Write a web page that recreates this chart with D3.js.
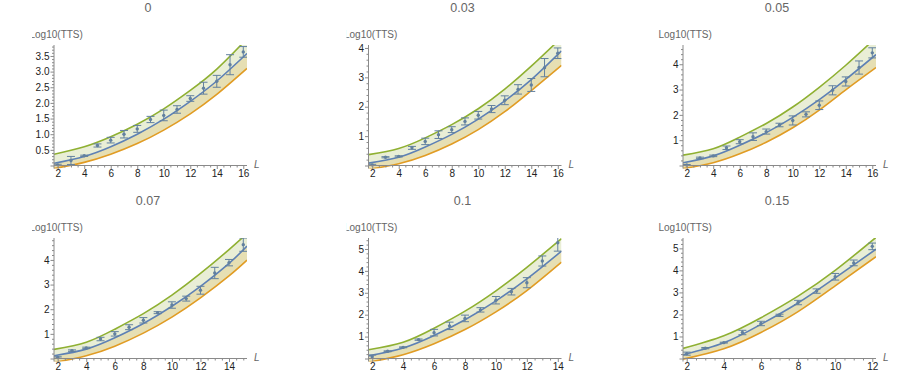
<!DOCTYPE html>
<html>
<head>
<meta charset="utf-8">
<script src="https://cdn.jsdelivr.net/npm/d3@7"></script>
<style>
  body { margin: 0; background: #fff; }
  svg { display: block; }
</style>
</head>
<body>
<div id="chart"></div>
<script>
// panel titles
const titles = ["0", "0.03", "0.05", "0.07", "0.1", "0.15"];

// system sizes L per panel
const sizes = [
  [2, 3, 4, 5, 6, 7, 8, 9, 10, 11, 12, 13, 14, 15, 16],
  [2, 3, 4, 5, 6, 7, 8, 9, 10, 11, 12, 13, 14, 15, 16],
  [2, 3, 4, 5, 6, 7, 8, 9, 10, 11, 12, 13, 14, 15, 16],
  [2, 3, 4, 5, 6, 7, 8, 9, 10, 11, 12, 13, 14, 15],
  [2, 3, 4, 5, 6, 7, 8, 9, 10, 11, 12, 13, 14],
  [2, 3, 4, 5, 6, 7, 8, 9, 10, 11, 12]
];

// measured Log10(TTS) and error
const meanLog = [
  [0.02, 0.16, 0.31, 0.64, 0.81, 1.0, 1.17, 1.47, 1.6, 1.79, 2.14, 2.47, 2.69, 3.22, 3.63],
  [0.02, 0.28, 0.31, 0.6, 0.82, 1.05, 1.22, 1.5, 1.71, 1.92, 2.22, 2.59, 2.74, 3.33, 3.82],
  [0.02, 0.3, 0.38, 0.7, 0.94, 1.14, 1.34, 1.6, 1.78, 2.02, 2.38, 2.97, 3.32, 3.87, 4.45],
  [0.04, 0.32, 0.43, 0.79, 1.0, 1.27, 1.55, 1.86, 2.17, 2.43, 2.77, 3.47, 3.89, 4.62],
  [0.08, 0.33, 0.51, 0.86, 1.18, 1.49, 1.83, 2.22, 2.66, 3.05, 3.46, 4.45, 5.28],
  [0.22, 0.47, 0.72, 1.18, 1.59, 1.96, 2.54, 3.06, 3.71, 4.34, 5.09]
];
const errLog = [
  [0.02, 0.13, 0.02, 0.05, 0.09, 0.12, 0.11, 0.1, 0.17, 0.12, 0.09, 0.19, 0.19, 0.32, 0.17],
  [0.02, 0.02, 0.02, 0.05, 0.11, 0.13, 0.1, 0.12, 0.13, 0.12, 0.15, 0.16, 0.22, 0.31, 0.18],
  [0.02, 0.03, 0.03, 0.07, 0.08, 0.15, 0.1, 0.07, 0.18, 0.1, 0.17, 0.18, 0.18, 0.26, 0.2],
  [0.03, 0.03, 0.03, 0.07, 0.09, 0.1, 0.11, 0.04, 0.13, 0.1, 0.16, 0.23, 0.13, 0.27],
  [0.08, 0.02, 0.02, 0.03, 0.15, 0.17, 0.15, 0.1, 0.17, 0.15, 0.23, 0.23, 0.38],
  [0.07, 0.03, 0.02, 0.1, 0.1, 0.05, 0.1, 0.1, 0.15, 0.13, 0.15]
];

// fitted curves read at a few L values (mid fit, upper and lower bound)
const fitL = [
  [1.72, 4, 6, 8, 10, 12, 14, 16.28],
  [1.72, 4, 6, 8, 10, 12, 14, 16.28],
  [1.72, 4, 6, 8, 10, 12, 14, 16.28],
  [1.74, 4, 6, 8, 10, 12, 14, 15.26],
  [1.76, 4, 6, 8, 10, 12, 14.24],
  [1.8, 4, 6, 8, 10, 12.2]
];
const fitMid = [
  [0.07, 0.29, 0.60, 1.0, 1.48, 2.05, 2.7, 3.58],
  [0.08, 0.28, 0.63, 1.06, 1.58, 2.2, 2.92, 3.9],
  [0.11, 0.38, 0.8, 1.3, 1.9, 2.6, 3.4, 4.38],
  [0.11, 0.38, 0.84, 1.42, 2.12, 2.93, 3.86, 4.56],
  [0.12, 0.48, 1.05, 1.77, 2.63, 3.63, 4.9],
  [0.17, 0.71, 1.55, 2.52, 3.66, 4.96]
];
const fitHigh = [
  [0.36, 0.6, 0.92, 1.32, 1.81, 2.4, 3.08, 4.05],
  [0.37, 0.58, 0.94, 1.39, 1.93, 2.6, 3.38, 4.35],
  [0.41, 0.66, 1.12, 1.66, 2.31, 3.09, 3.96, 5.05],
  [0.37, 0.66, 1.19, 1.82, 2.57, 3.45, 4.42, 5.07],
  [0.4, 0.74, 1.38, 2.16, 3.09, 4.16, 5.47],
  [0.46, 1.03, 1.85, 2.83, 4.0, 5.5]
];
const fitLow = [
  [-0.1, 0.1, 0.36, 0.70, 1.13, 1.65, 2.27, 3.10],
  [-0.13, 0.06, 0.34, 0.73, 1.22, 1.83, 2.55, 3.41],
  [-0.12, 0.11, 0.46, 0.92, 1.49, 2.19, 2.99, 3.87],
  [-0.16, 0.11, 0.5, 1.03, 1.68, 2.46, 3.35, 3.99],
  [-0.17, 0.17, 0.67, 1.32, 2.13, 3.1, 4.4],
  [-0.03, 0.44, 1.18, 2.13, 3.3, 4.62]
];

// y axis top and tick step per panel
const yMax = [3.85, 4.1, 4.76, 4.89, 5.5, 5.47];
const yStep = [0.5, 1, 1, 1, 1, 1];

const W = 923, H = 375;
const colX = [54, 368.5, 683], rowTop = [45, 238];
const plotW = 193, plotH = 120.5;
const blue = "#5E81B5", green = "#8FB032", orange = "#E19C24";
const pointColor = "#62809f", axisColor = "#8a8a8a";

const svg = d3.select("#chart").append("svg")
  .attr("width", W).attr("height", H)
  .style("font-family", "'Liberation Sans', Arial, sans-serif");
const defs = svg.append("defs");

titles.forEach((title, i) => {
  const col = i % 3, row = Math.floor(i / 3);
  const left = colX[col], top = rowTop[row];
  const L = fitL[i];
  const x = d3.scaleLinear().domain([L[0], L[L.length - 1]]).range([left, left + plotW]);
  const y = d3.scaleLinear().domain([0, yMax[i]]).range([top + plotH, top]);
  const bottom = y(0) + 3;

  // cell clip (cuts the axis label in the first two columns)
  defs.append("clipPath").attr("id", "cell" + i)
    .append("rect")
    .attr("x", col < 2 ? left - 22 : left - 40).attr("y", top - 50)
    .attr("width", plotW + 60).attr("height", plotH + 80);
  defs.append("clipPath").attr("id", "plot" + i)
    .append("rect")
    .attr("x", left).attr("y", top)
    .attr("width", plotW).attr("height", bottom - top);

  const cell = svg.append("g").attr("clip-path", `url(#cell${i})`);

  // title
  svg.append("text")
    .attr("x", left + plotW / 2 - 2.5).attr("y", top - 33)
    .attr("text-anchor", "middle")
    .attr("font-size", 12.5).attr("fill", "#666")
    .text(title);

  const fit = L.map((l, k) => ({l, mid: fitMid[i][k], hi: fitHigh[i][k], lo: fitLow[i][k]}));
  const plot = cell.append("g").attr("clip-path", `url(#plot${i})`);

  // bands
  plot.append("path").datum(fit)
    .attr("fill", "#e9eed6")
    .attr("d", d3.area().curve(d3.curveNatural)
      .x(d => x(d.l)).y0(d => y(d.mid)).y1(d => y(d.hi)));
  plot.append("path").datum(fit)
    .attr("fill", "#e6dfb3")
    .attr("d", d3.area().curve(d3.curveNatural)
      .x(d => x(d.l)).y0(d => y(d.lo)).y1(d => y(d.mid)));

  // curves
  [["hi", green], ["lo", orange], ["mid", blue]].forEach(([k, c]) => {
    plot.append("path").datum(fit)
      .attr("fill", "none").attr("stroke", c).attr("stroke-width", 1.6)
      .attr("d", d3.line().curve(d3.curveNatural).x(d => x(d.l)).y(d => y(d[k])));
  });

  // axes
  const ax = cell.append("g").attr("stroke", axisColor).attr("stroke-width", 1);
  ax.append("line").attr("x1", left).attr("x2", left).attr("y1", bottom).attr("y2", top);
  ax.append("line").attr("x1", left).attr("x2", left + plotW).attr("y1", y(0)).attr("y2", y(0));

  const yMajor = d3.range(0, yMax[i] + 1e-9, yStep[i]).map(v => +v.toFixed(2));
  const yMinor = d3.range(0, yMax[i] + 1e-9, yStep[i] / 5).map(v => +v.toFixed(2))
    .filter(v => !yMajor.includes(v));
  const xMax = d3.max(sizes[i]);
  const xMajor = d3.range(2, xMax + 1e-9, 2);
  const xMinor = d3.range(2, L[L.length - 1], 0.5).filter(v => v % 2 !== 0);

  cell.append("g").attr("transform", `translate(${left},0)`)
    .call(d3.axisLeft(y).tickValues(yMajor).tickSize(3.5).tickPadding(1)
      .tickFormat(v => v === 0 ? "" : (yStep[i] < 1 ? d3.format(".1f")(v) : d3.format("d")(v))));
  cell.append("g").attr("transform", `translate(${left},0)`)
    .call(d3.axisLeft(y).tickValues(yMinor).tickSize(2).tickFormat(""));
  cell.append("g").attr("transform", `translate(0,${y(0)})`)
    .call(d3.axisBottom(x).tickValues(xMajor).tickSize(3.5).tickPadding(1));
  cell.append("g").attr("transform", `translate(0,${y(0)})`)
    .call(d3.axisBottom(x).tickValues(xMinor).tickSize(2).tickFormat(""));
  cell.selectAll(".domain").remove();
  cell.selectAll(".tick line").attr("stroke", axisColor);
  cell.selectAll(".tick text").attr("font-size", 10).attr("fill", "#222")
    .attr("font-family", "'Liberation Sans', Arial, sans-serif");

  // axis labels
  cell.append("text")
    .attr("x", left - 24.5).attr("y", top - 7)
    .attr("font-size", 10).attr("fill", "#666")
    .text("Log10(TTS)");
  svg.append("text")
    .attr("x", left + plotW + 7).attr("y", y(0) + 2.5)
    .attr("font-size", 10).attr("font-style", "italic").attr("fill", "#666")
    .text("L");

  // data with error bars
  const pts = sizes[i].map((l, k) => ({l, m: meanLog[i][k], e: errLog[i][k]}));
  const eb = plot.append("g").attr("stroke", pointColor).attr("stroke-width", 1);
  pts.forEach(d => {
    const cx = x(d.l), y1 = y(d.m + d.e), y2 = y(d.m - d.e);
    eb.append("line").attr("x1", cx).attr("x2", cx).attr("y1", y1).attr("y2", y2);
    eb.append("line").attr("x1", cx - 4).attr("x2", cx + 4).attr("y1", y1).attr("y2", y1);
    eb.append("line").attr("x1", cx - 4).attr("x2", cx + 4).attr("y1", y2).attr("y2", y2);
  });
  plot.selectAll("circle.pt").data(pts).enter().append("circle")
    .attr("class", "pt")
    .attr("cx", d => x(d.l)).attr("cy", d => y(d.m))
    .attr("r", 1.7).attr("fill", pointColor);
});
</script>
</body>
</html>
